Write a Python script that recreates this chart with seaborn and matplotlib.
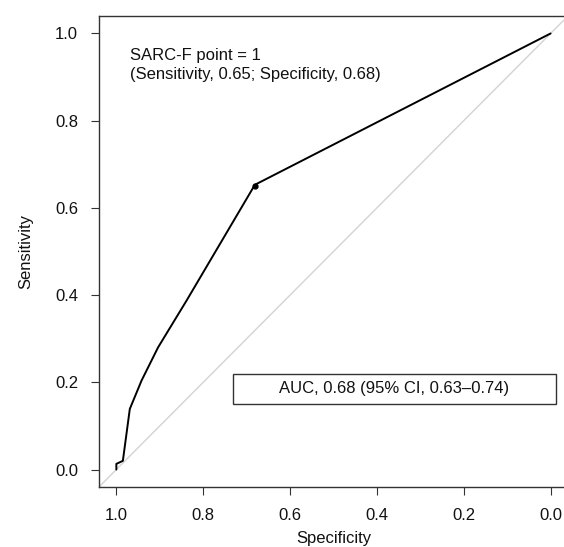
import numpy as np
import seaborn as sns
import matplotlib.pyplot as plt
from matplotlib.patches import Rectangle

# ROC curve points
specificity = [1.0, 1.0, 0.985, 0.969, 0.942, 0.904, 0.838, 0.681, 0.0]
sensitivity = [0.0, 0.013, 0.02, 0.139, 0.204, 0.28, 0.388, 0.653, 1.0]
cut_spec, cut_sens = 0.68, 0.65
ticks = [0.0, 0.2, 0.4, 0.6, 0.8, 1.0]
tick_labels = ["0.0", "0.2", "0.4", "0.6", "0.8", "1.0"]

sns.set_style("ticks")
plt.rcParams['font.family'] = ['Liberation Sans', 'DejaVu Sans']
fs = 12

fig = plt.figure(figsize=(5.64, 5.47), dpi=100)
ax = fig.add_axes([0.1755, 0.1097, 0.8315, 0.861])

# chance line across the whole box
ax.plot([1.1, -0.1], [-0.1, 1.1], color="#d3d3d3", lw=1, zorder=1)

sns.lineplot(x=specificity, y=sensitivity, sort=False, estimator=None,
             color="black", lw=1.4, ax=ax, zorder=3)
ax.plot([cut_spec], [cut_sens], marker="o", ms=3.5, color="black", zorder=4)

ax.set_xlim(1.04, -0.04)
ax.set_ylim(-0.04, 1.04)
ax.set_xticks(ticks)
ax.set_xticklabels(tick_labels)
ax.set_yticks(ticks)
ax.set_yticklabels(tick_labels)
ax.tick_params(axis="both", direction="out", length=6, width=0.8,
               color="#333333", labelsize=fs, labelcolor="#111111")
ax.tick_params(axis="x", pad=9)
ax.tick_params(axis="y", pad=9)
for sp in ax.spines.values():
    sp.set_visible(True)
    sp.set_color("#333333")
    sp.set_linewidth(1)

ax.set_xlabel("Specificity", fontsize=fs, color="#111111", labelpad=6)
ax.set_ylabel("Sensitivity", fontsize=fs, color="#111111", labelpad=16)

ax.text(0.969, 0.95, "SARC-F point = 1", fontsize=fs, va="center",
        ha="left", color="#111111")
ax.text(0.969, 0.905, "(Sensitivity, 0.65; Specificity, 0.68)", fontsize=fs,
        va="center", ha="left", color="#111111")

ax.add_patch(Rectangle((0.731, 0.151), -0.743, 0.069, fill=False,
                       edgecolor="#333333", lw=1, zorder=5))
ax.text(0.36, 0.186, "AUC, 0.68 (95% CI, 0.63\u20130.74)", fontsize=fs,
        ha="center", va="center", color="#111111")

fig.savefig("out.png", dpi=100)
